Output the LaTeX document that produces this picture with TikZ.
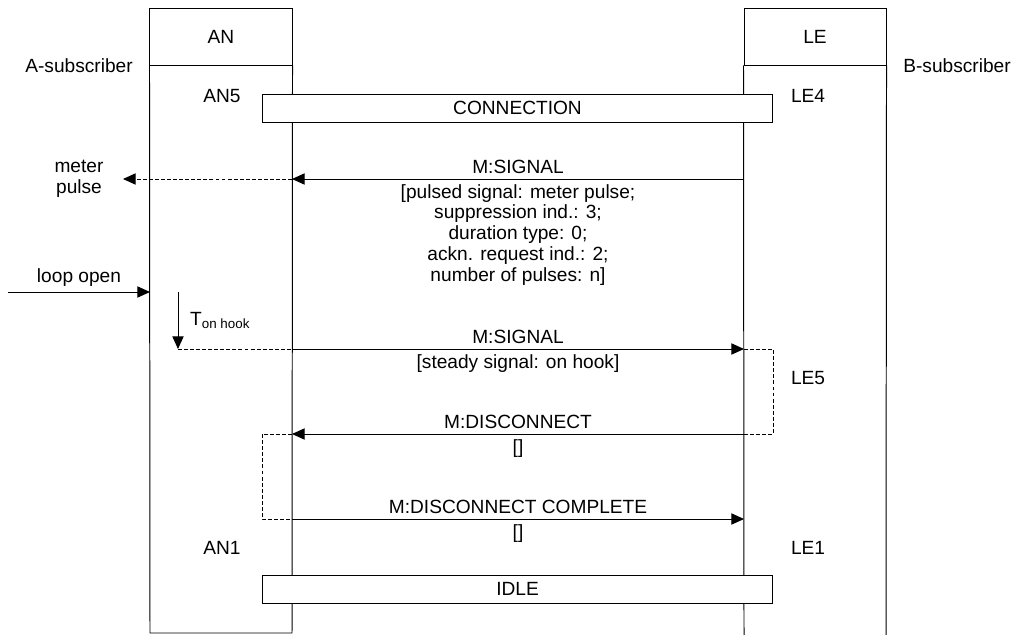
\documentclass[tikz,border=0pt]{standalone}
\usepackage{fontspec}
\setmainfont{Liberation Sans}
\usetikzlibrary{arrows.meta}
\begin{document}
\begin{tikzpicture}[x=.025cm, y=-.025cm, line width=.7pt,
        font=\fontsize{13.6}{14.9}\selectfont,
        msg/.style={-{Triangle[length=9pt,width=8pt]}},
        aux/.style={dash pattern=on 2.8pt off 1.5pt},
        head/.style={draw, minimum width=3.55cm, minimum height=1.4cm},
        state/.style={draw, fill=white, minimum width=12.75cm, minimum height=.7cm}]
        \useasboundingbox (0,0) rectangle (1016,635);
        \node[head] (an) at (221,37) {AN};
        \node[head] (le) at (815,37) {LE};
        \draw (an.south west) -- (150,633) -- (292,633) -- (an.south east);
        \draw (le.south west) -- (744,635);
        \draw (le.south east) -- (886,635);
        \foreach \m/\y in {sig/179, hook/349, disc/434, comp/519}{
          \coordinate (an-\m) at (292,\y);
          \coordinate (le-\m) at (744,\y);
        }
        \coordinate (mp-end) at (123,179);
        \coordinate (loop) at (8,292);
        \coordinate (an-loop) at (150,292);
        \coordinate (t-start) at (178,292);
        \coordinate (t-end) at (178,349);
        \foreach \t/\x/\y in {A-subscriber/79/66, B-subscriber/957/66, AN5/222/96, LE4/808/96,
            LE5/808/378, AN1/222/548, LE1/808/548}
          \node (\t) at (\x,\y) {\t};
        \node[state] (conn) at (517.5,108) {CONNECTION};
        \node[state] (idle) at (517.5,589) {IDLE};
        \node[align=center] (mp) at (79,179) {meter\\pulse};
        \draw[msg] (le-sig) -- (an-sig) node[midway, above] (s1) {M:SIGNAL}
          node[midway, below, align=center] (p1) {[pulsed signal: meter pulse;\\suppression ind.: 3;\\duration type: 0;\\ackn. request ind.: 2;\\number of pulses: n]};
        \draw[msg, aux] (an-sig) -- (mp-end);
        \draw[msg] (loop) -- (an-loop) node[midway, above] (lo) {loop open};
        \draw[msg] (t-start) -- (t-end) node[midway, right, xshift=5pt] (t) {T\textsubscript{on hook}};
        \draw[aux] (t-end) -- (an-hook);
        \draw[msg] (an-hook) -- (le-hook) node[midway, above] (s2) {M:SIGNAL}
          node[midway, below] (p2) {[steady signal: on hook]};
        \draw[aux] (le-hook) -- ++(29,0) |- (le-disc);
        \draw[msg] (le-disc) -- (an-disc) node[midway, above] (d1) {M:DISCONNECT}
          node[midway, below] (p3) {[]};
        \draw[aux] (an-disc) -- ++(-30,0) |- (an-comp);
        \draw[msg] (an-comp) -- (le-comp) node[midway, above] (d2) {M:DISCONNECT COMPLETE}
          node[midway, below] (p4) {[]};
\end{tikzpicture}
\end{document}
